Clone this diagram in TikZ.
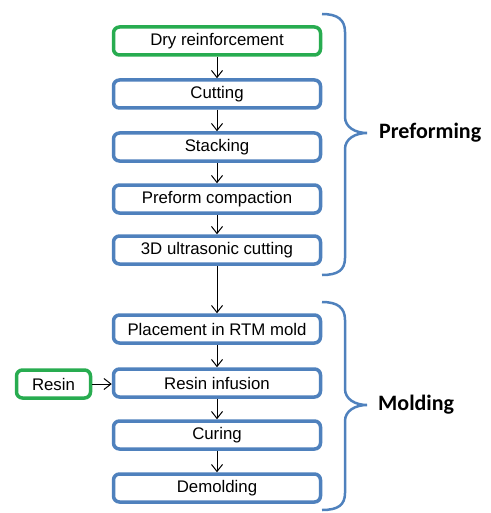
\documentclass[tikz,border=0pt]{standalone}
\usepackage{fontspec}
\setmainfont{Liberation Sans}
\newfontfamily\bracefont{Carlito}
\usetikzlibrary{arrows.meta}
\definecolor{boxblue}{RGB}{79,129,189}
\definecolor{boxgreen}{RGB}{40,172,80}
\begin{document}
\begin{tikzpicture}[x=1pt,y=-1pt,
  stepbox/.style={draw=boxblue,line width=3.5pt,rounded corners=6pt,minimum width=207pt,minimum height=28pt,inner sep=0pt,font=\fontsize{16.8}{18}\selectfont,fill=white},
  inbox/.style={stepbox,draw=boxgreen},
  flow/.style={-{Straight Barb[length=7pt,width=11pt]},line width=1pt,black},
  brace/.style={draw=boxblue,line width=2.5pt},
  bracelabel/.style={anchor=west,inner sep=0pt,font=\bracefont\bfseries\fontsize{22}{24}\selectfont}]
\useasboundingbox (0,0) rectangle (490,513);
\node[inbox] (dry) at (217,41) {Dry reinforcement};
\node[stepbox] (cut) at (217,94) {Cutting};
\node[stepbox] (stack) at (217,147) {Stacking};
\node[stepbox] (comp) at (217,199) {Preform compaction};
\node[stepbox] (ultra) at (217,250) {3D ultrasonic cutting};
\node[stepbox] (place) at (217,329) {Placement in RTM mold};
\node[stepbox] (infu) at (217,383) {Resin infusion};
\node[stepbox] (cure) at (217,435) {Curing};
\node[stepbox] (demold) at (217,488) {Demolding};
\node[inbox,minimum width=74pt] (resin) at (53.5,384) {Resin};
\draw[flow] (dry) -- (cut);
\draw[flow] (cut) -- (stack);
\draw[flow] (stack) -- (comp);
\draw[flow] (comp) -- (ultra);
\draw[flow] (ultra) -- (place);
\draw[flow] (place) -- (infu);
\draw[flow] (infu) -- (cure);
\draw[flow] (cure) -- (demold);
\draw[flow] (resin.east) -- (resin.east -| infu.west);
\draw[brace] (322,14) .. controls (338,14) and (345,20) .. (345,32) -- (345,117)
  .. controls (345,127) and (355,133) .. (367,133)
  .. controls (355,133) and (345,139) .. (345,149) -- (345,258)
  .. controls (345,270) and (338,275) .. (322,275);
\draw[brace] (322,302) .. controls (338,302) and (345,308) .. (345,320) -- (345,389)
  .. controls (345,399) and (355,405) .. (367,405)
  .. controls (355,405) and (345,411) .. (345,421) -- (345,493)
  .. controls (345,505) and (338,510) .. (322,510);
\node[bracelabel] (pref) at (379,133) {Preforming};
\node[bracelabel] (mold) at (378,405) {Molding};
\end{tikzpicture}
\end{document}
